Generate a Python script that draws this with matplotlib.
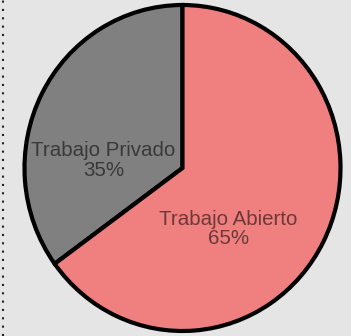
import matplotlib
matplotlib.use("Agg")
import matplotlib.pyplot as plt
from matplotlib.lines import Line2D

# data
labels = ["Trabajo Privado", "Trabajo Abierto"]
shares = [35, 65]
colors = ["#808080", "#F08080"]
# where each label sits (data units of the pie, radius 1)
label_pos = [(-0.50, 0.045), (0.29, -0.375)]

bg = "#E5E5E5"

fig = plt.figure(figsize=(3.51, 3.36), dpi=100)
fig.patch.set_facecolor(bg)

# axes box fitted around the (slightly stretched) circle
ax = fig.add_axes([24.5 / 351, 5 / 336, 316 / 351, 326 / 336])
ax.set_facecolor(bg)

wedges, _ = ax.pie(shares, colors=colors, startangle=90, counterclock=True,
                   wedgeprops=dict(edgecolor="black", linewidth=3.0))
for w in wedges:
    w.set_clip_on(False)

for lab, val, (x, y) in zip(labels, shares, label_pos):
    ax.text(x, y, f"{lab}\n{val}%", ha="center", va="center",
            multialignment="center", fontsize=14.8, color="black", alpha=0.55,
            family=["Liberation Sans", "DejaVu Sans"], linespacing=1.05)

ax.set_aspect("auto")
ax.set_xlim(-1, 1)
ax.set_ylim(-1, 1)
ax.axis("off")

# dotted border along the left edge
fig.add_artist(Line2D([2.5 / 351, 2.5 / 351], [0, 1], transform=fig.transFigure,
                      color="#222222", linewidth=1.5, linestyle=(0, (1, 3))))

fig.savefig("out.png", dpi=100, facecolor=bg)
